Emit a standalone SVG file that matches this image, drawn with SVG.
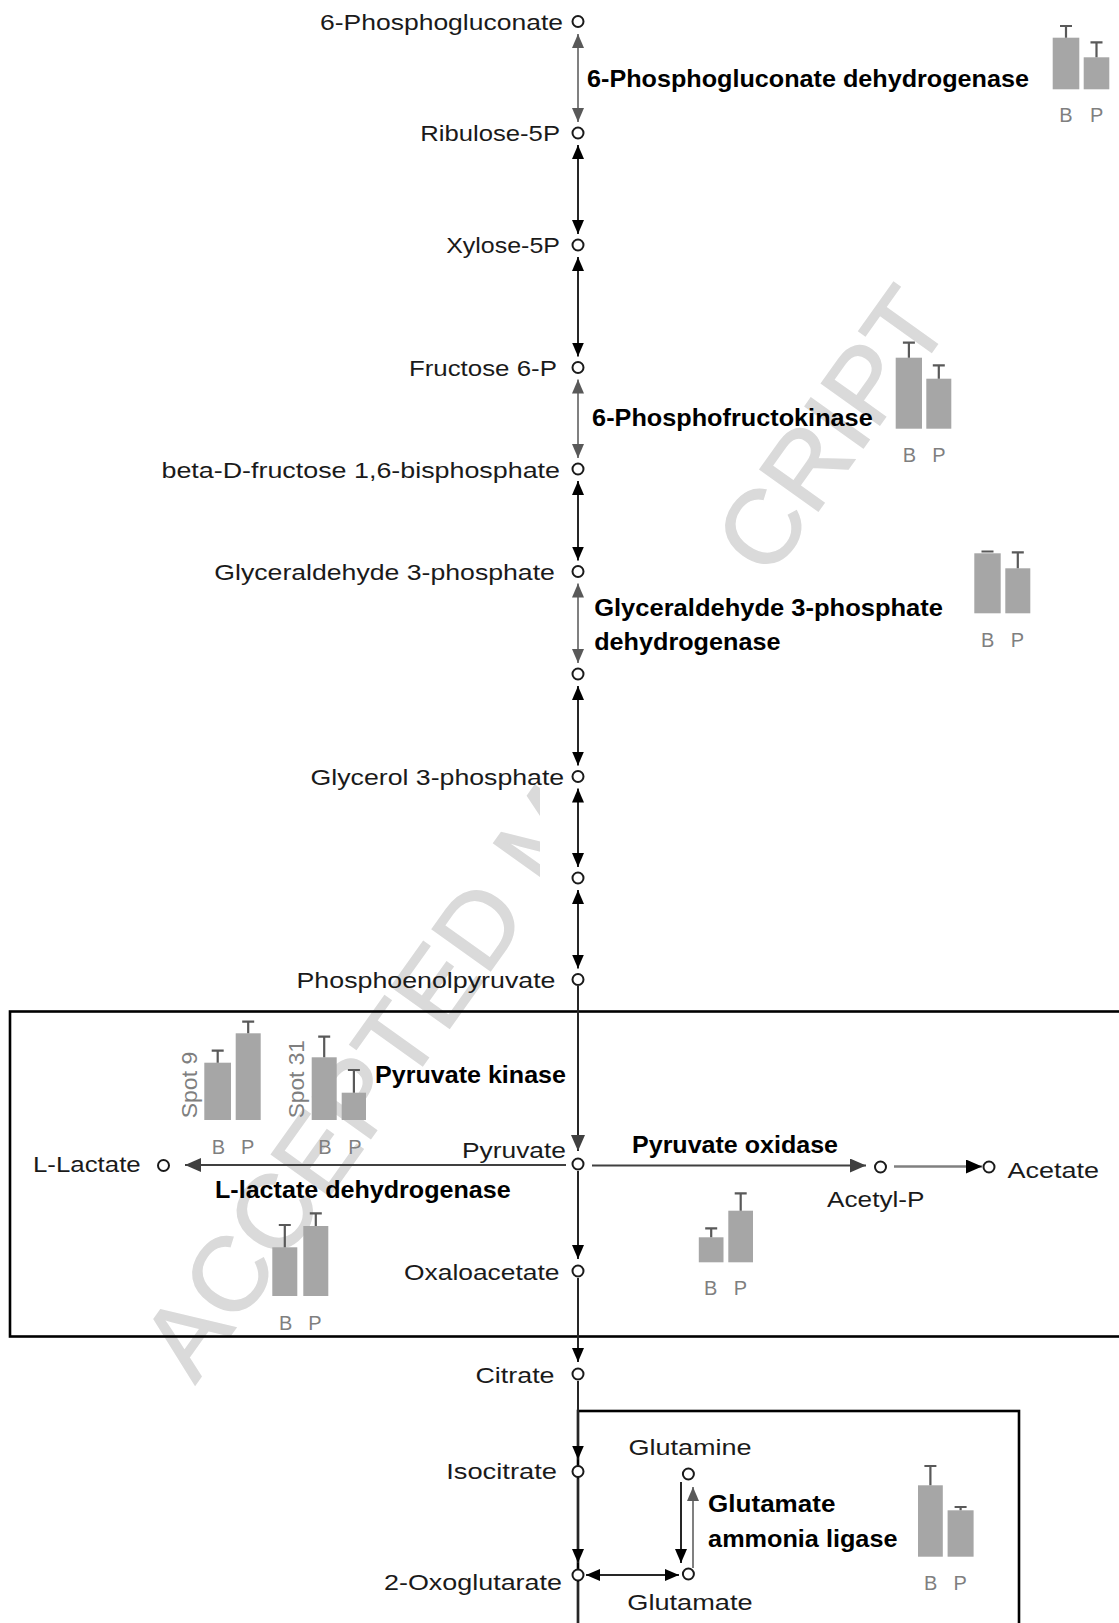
<svg xmlns="http://www.w3.org/2000/svg" width="1119" height="1623" viewBox="0 0 1119 1623">
<style>
.lbl{font-family:"Liberation Sans",Arial,sans-serif;font-size:22px;fill:#1a1a1a}
.enz{font-family:"Liberation Sans",Arial,sans-serif;font-size:24px;font-weight:bold;fill:#000}
.ax{font-family:"Liberation Sans",Arial,sans-serif;font-size:20px;fill:#7f7f7f;text-anchor:middle}
.spot{font-family:"Liberation Sans",Arial,sans-serif;font-size:22px;fill:#7f7f7f}
.bar{fill:#a6a6a6}
.err{stroke:#595959;stroke-width:2.2;fill:none}
.node{fill:#fff;stroke:#1a1a1a;stroke-width:2}
.blk{stroke:#262626;stroke-width:2;fill:none}
.gry{stroke:#808080;stroke-width:2;fill:none}
.box{fill:none;stroke:#000;stroke-width:2.6}
.wm{font-family:"Liberation Sans",Arial,sans-serif;font-size:104px;fill:#dadada;stroke:#dadada;stroke-width:1.5}
</style>
<defs>
<marker id="ab" markerUnits="userSpaceOnUse" viewBox="0 0 14 12" markerWidth="14" markerHeight="12" refX="14" refY="6" orient="auto-start-reverse"><path d="M0,0 L14,6 L0,12 z" fill="#000"/></marker>
<marker id="ag" markerUnits="userSpaceOnUse" viewBox="0 0 14 12" markerWidth="14" markerHeight="12" refX="14" refY="6" orient="auto-start-reverse"><path d="M0,0 L14,6 L0,12 z" fill="#595959"/></marker>
<marker id="ad" markerUnits="userSpaceOnUse" viewBox="0 0 16 14" markerWidth="16" markerHeight="14" refX="16" refY="7" orient="auto-start-reverse"><path d="M0,0 L16,7 L0,14 z" fill="#404040"/></marker>
<marker id="abig" markerUnits="userSpaceOnUse" viewBox="0 0 16 14" markerWidth="16" markerHeight="14" refX="16" refY="7" orient="auto-start-reverse"><path d="M0,0 L16,7 L0,14 z" fill="#000"/></marker>
<clipPath id="wmclip"><path clip-rule="evenodd" d="M-200 -200H1400V1900H-200Z M540 565L690 520L790 590H900V900H540Z"/></clipPath>
</defs>
<rect width="1119" height="1623" fill="#fff"/>
<g id="watermark" clip-path="url(#wmclip)">
<text class="wm" transform="translate(195,1385) rotate(-54.5)" textLength="1306" lengthAdjust="spacingAndGlyphs">ACCEPTED MANUSCRIPT</text>
</g>
<g id="boxes">
<rect class="box" x="10" y="1011.5" width="1125" height="325"/>
<rect class="box" x="578" y="1411" width="441" height="260"/>
</g>
<g id="connectors">
<line class="gry" x1="578" y1="34" x2="578" y2="122" marker-start="url(#ag)" marker-end="url(#ag)"/>
<line class="blk" x1="578" y1="145" x2="578" y2="234" marker-start="url(#ab)" marker-end="url(#ab)"/>
<line class="blk" x1="578" y1="257" x2="578" y2="356.5" marker-start="url(#ab)" marker-end="url(#ab)"/>
<line class="gry" x1="578" y1="379.5" x2="578" y2="458" marker-start="url(#ag)" marker-end="url(#ag)"/>
<line class="blk" x1="578" y1="481" x2="578" y2="560.5" marker-start="url(#ab)" marker-end="url(#ab)"/>
<line class="gry" x1="578" y1="583.5" x2="578" y2="663" marker-start="url(#ag)" marker-end="url(#ag)"/>
<line class="blk" x1="578" y1="686" x2="578" y2="765.5" marker-start="url(#ab)" marker-end="url(#ab)"/>
<line class="blk" x1="578" y1="788.5" x2="578" y2="867" marker-start="url(#ab)" marker-end="url(#ab)"/>
<line class="blk" x1="578" y1="890" x2="578" y2="968.5" marker-start="url(#ab)" marker-end="url(#ab)"/>
<line class="blk" x1="578" y1="986" x2="578" y2="1151" marker-end="url(#ad)"/>
<line class="blk" x1="578" y1="1171" x2="578" y2="1259" marker-end="url(#ab)"/>
<line class="blk" x1="578" y1="1278" x2="578" y2="1362" marker-end="url(#ab)"/>
<line class="blk" x1="578" y1="1381" x2="578" y2="1459.5" marker-end="url(#ab)"/>
<line class="blk" x1="578" y1="1478.5" x2="578" y2="1563" marker-end="url(#ab)"/>
<line class="blk" x1="578" y1="1582" x2="578" y2="1623"/>
<line x1="566" y1="1165" x2="185" y2="1165" stroke="#404040" stroke-width="2.2" marker-end="url(#ad)"/>
<line x1="592" y1="1165.5" x2="866" y2="1165.5" stroke="#404040" stroke-width="2.2" marker-end="url(#ad)"/>
<line x1="894" y1="1166.5" x2="982" y2="1166.5" stroke="#808080" stroke-width="2.6" marker-end="url(#abig)"/>
<line class="blk" x1="586" y1="1575" x2="679" y2="1575" marker-start="url(#ab)" marker-end="url(#ab)"/>
<line class="blk" x1="681" y1="1482" x2="681" y2="1563" marker-end="url(#ab)"/>
<line class="gry" x1="693" y1="1568" x2="693" y2="1487" marker-end="url(#ag)"/>
</g>
<g id="n-6pg"><circle class="node" cx="578" cy="21.5" r="5.5"/><text class="lbl" x="320" y="29.5" textLength="243" lengthAdjust="spacingAndGlyphs">6-Phosphogluconate</text></g>
<g id="n-ribulose"><circle class="node" cx="578" cy="133" r="5.5"/><text class="lbl" x="420.3" y="140.5" textLength="139.7" lengthAdjust="spacingAndGlyphs">Ribulose-5P</text></g>
<g id="n-xylose"><circle class="node" cx="578" cy="245" r="5.5"/><text class="lbl" x="446.2" y="253" textLength="113.8" lengthAdjust="spacingAndGlyphs">Xylose-5P</text></g>
<g id="n-f6p"><circle class="node" cx="578" cy="367.5" r="5.5"/><text class="lbl" x="408.9" y="376" textLength="148" lengthAdjust="spacingAndGlyphs">Fructose 6-P</text></g>
<g id="n-fbp"><circle class="node" cx="578" cy="469" r="5.5"/><text class="lbl" x="161.5" y="477.5" textLength="398.5" lengthAdjust="spacingAndGlyphs">beta-D-fructose 1,6-bisphosphate</text></g>
<g id="n-g3p"><circle class="node" cx="578" cy="571.5" r="5.5"/><text class="lbl" x="214.3" y="580" textLength="340.6" lengthAdjust="spacingAndGlyphs">Glyceraldehyde 3-phosphate</text></g>
<g id="n-x1"><circle class="node" cx="578" cy="674" r="5.5"/></g>
<g id="n-gly3p"><circle class="node" cx="578" cy="776.5" r="5.5"/><text class="lbl" x="310.6" y="785" textLength="253.6" lengthAdjust="spacingAndGlyphs">Glycerol 3-phosphate</text></g>
<g id="n-x2"><circle class="node" cx="578" cy="878" r="5.5"/></g>
<g id="n-pep"><circle class="node" cx="578" cy="979.5" r="5.5"/><text class="lbl" x="296.5" y="987.5" textLength="259" lengthAdjust="spacingAndGlyphs">Phosphoenolpyruvate</text></g>
<g id="n-pyruvate"><circle class="node" cx="578" cy="1164" r="5.5"/><text class="lbl" x="462" y="1157.7" textLength="104" lengthAdjust="spacingAndGlyphs">Pyruvate</text></g>
<g id="n-lactate"><circle class="node" cx="163.5" cy="1165.5" r="5.5" stroke="#404040" stroke-width="2.6"/><text class="lbl" x="33" y="1172" textLength="107.7" lengthAdjust="spacingAndGlyphs">L-Lactate</text></g>
<g id="n-acetylp"><circle class="node" cx="880.5" cy="1167" r="5.5" stroke="#404040"/><text class="lbl" x="827.1" y="1207" textLength="97.4" lengthAdjust="spacingAndGlyphs">Acetyl-P</text></g>
<g id="n-acetate"><circle class="node" cx="989" cy="1167" r="5.5" stroke="#404040"/><text class="lbl" x="1007.5" y="1177.7" textLength="91.5" lengthAdjust="spacingAndGlyphs">Acetate</text></g>
<g id="n-oxaloacetate"><circle class="node" cx="578" cy="1271" r="5.5"/><text class="lbl" x="404" y="1280" textLength="155.5" lengthAdjust="spacingAndGlyphs">Oxaloacetate</text></g>
<g id="n-citrate"><circle class="node" cx="578" cy="1374" r="5.5"/><text class="lbl" x="475.5" y="1383" textLength="79" lengthAdjust="spacingAndGlyphs">Citrate</text></g>
<g id="n-isocitrate"><circle class="node" cx="578" cy="1471.5" r="5.5"/><text class="lbl" x="446.2" y="1478.5" textLength="110.8" lengthAdjust="spacingAndGlyphs">Isocitrate</text></g>
<g id="n-oxoglutarate"><circle class="node" cx="578" cy="1575" r="5.5"/><text class="lbl" x="384" y="1590" textLength="178" lengthAdjust="spacingAndGlyphs">2-Oxoglutarate</text></g>
<g id="n-glutamine"><circle class="node" cx="688.4" cy="1474" r="5.5"/><text class="lbl" x="628.4" y="1454.5" textLength="123.2" lengthAdjust="spacingAndGlyphs">Glutamine</text></g>
<g id="n-glutamate"><circle class="node" cx="688.4" cy="1574" r="5.5"/><text class="lbl" x="627.3" y="1610" textLength="125.3" lengthAdjust="spacingAndGlyphs">Glutamate</text></g>
<g id="e-6pgdh">
<text class="enz" x="587" y="87.3" textLength="442" lengthAdjust="spacingAndGlyphs">6-Phosphogluconate dehydrogenase</text>
<rect class="bar" x="1052.7" y="37.7" width="26.6" height="51.6"/><rect class="bar" x="1083.7" y="57.3" width="25.6" height="32"/>
<path class="err" d="M1066,37.7V26M1060,26H1072M1096.5,57.3V42.3M1090.5,42.3H1102.5"/>
<text class="ax" x="1066" y="121.7">B</text><text class="ax" x="1096.7" y="121.7">P</text>
</g>
<g id="e-pfk">
<text class="enz" x="592.1" y="426" textLength="280.6" lengthAdjust="spacingAndGlyphs">6-Phosphofructokinase</text>
<rect class="bar" x="895.7" y="357.7" width="26.3" height="71"/><rect class="bar" x="926.3" y="378.7" width="25" height="50"/>
<path class="err" d="M908.9,357.7V342.7M902.9,342.7H914.9M938.8,378.7V365.3M932.8,365.3H944.8"/>
<text class="ax" x="909.3" y="461.7">B</text><text class="ax" x="939" y="461.7">P</text>
</g>
<g id="e-gapdh">
<text class="enz" x="594.2" y="615.5" textLength="348.8" lengthAdjust="spacingAndGlyphs">Glyceraldehyde 3-phosphate</text>
<text class="enz" x="594.2" y="649.5" textLength="186.3" lengthAdjust="spacingAndGlyphs">dehydrogenase</text>
<rect class="bar" x="974.3" y="553.3" width="26.4" height="60"/><rect class="bar" x="1005.3" y="568.3" width="25" height="45"/>
<path class="err" d="M981.5,551.5H993.5M1017.8,568.3V552.3M1011.8,552.3H1023.8"/>
<text class="ax" x="987.7" y="646.7">B</text><text class="ax" x="1017.3" y="646.7">P</text>
</g>
<g id="e-pk">
<text class="enz" x="375" y="1082.7" textLength="191" lengthAdjust="spacingAndGlyphs">Pyruvate kinase</text>
<text class="spot" transform="translate(196.5,1118.3) rotate(-90)" textLength="66.6" lengthAdjust="spacingAndGlyphs">Spot 9</text>
<rect class="bar" x="204.3" y="1062.7" width="26.7" height="57.3"/><rect class="bar" x="235.7" y="1033.3" width="25" height="86.7"/>
<path class="err" d="M217.7,1062.7V1050.7M211.7,1050.7H223.7M248.2,1033.3V1021.7M242.2,1021.7H254.2"/>
<text class="ax" x="218.3" y="1154">B</text><text class="ax" x="247.7" y="1154">P</text>
<text class="spot" transform="translate(304,1118.3) rotate(-90)" textLength="78.3" lengthAdjust="spacingAndGlyphs">Spot 31</text>
<rect class="bar" x="311.7" y="1057.3" width="25" height="62.7"/><rect class="bar" x="341.7" y="1092.7" width="24.3" height="27.3"/>
<path class="err" d="M324.2,1057.3V1036.7M318.2,1036.7H330.2M353.9,1092.7V1070M347.9,1070H359.9"/>
<text class="ax" x="325" y="1154">B</text><text class="ax" x="355" y="1154">P</text>
</g>
<g id="e-ldh">
<text class="enz" x="215" y="1197.7" textLength="295.7" lengthAdjust="spacingAndGlyphs">L-lactate dehydrogenase</text>
<rect class="bar" x="272.3" y="1247.3" width="25" height="48.7"/><rect class="bar" x="303.3" y="1226" width="25" height="70"/>
<path class="err" d="M284.8,1247.3V1225M278.8,1225H290.8M315.8,1226V1213.3M309.8,1213.3H321.8"/>
<text class="ax" x="285.7" y="1330">B</text><text class="ax" x="315" y="1330">P</text>
</g>
<g id="e-po">
<text class="enz" x="632" y="1153.3" textLength="206" lengthAdjust="spacingAndGlyphs">Pyruvate oxidase</text>
<rect class="bar" x="698.8" y="1237.3" width="24.7" height="25"/><rect class="bar" x="728.3" y="1210.7" width="24.7" height="51.6"/>
<path class="err" d="M711.2,1237.3V1228.3M705.2,1228.3H717.2M740.7,1210.7V1193.3M734.7,1193.3H746.7"/>
<text class="ax" x="710.6" y="1295">B</text><text class="ax" x="740.5" y="1295">P</text>
</g>
<g id="e-gal">
<text class="enz" x="708.1" y="1511.7" textLength="127.3" lengthAdjust="spacingAndGlyphs">Glutamate</text>
<text class="enz" x="708.1" y="1546.7" textLength="189.4" lengthAdjust="spacingAndGlyphs">ammonia ligase</text>
<rect class="bar" x="918" y="1485.3" width="24.8" height="71.4"/><rect class="bar" x="947.6" y="1510.3" width="26" height="46.4"/>
<path class="err" d="M930.4,1485.3V1466M924.4,1466H936.4M960.6,1510.3V1507M954.6,1507H966.6"/>
<text class="ax" x="930.7" y="1590">B</text><text class="ax" x="960.2" y="1590">P</text>
</g>
</svg>
